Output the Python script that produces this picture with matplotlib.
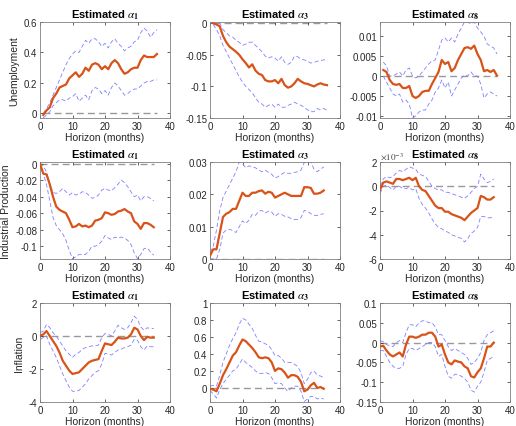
import numpy as np
import matplotlib
matplotlib.use("Agg")
import matplotlib.pyplot as plt
from matplotlib.ticker import FuncFormatter

plt.rcParams['font.family'] = ['Liberation Sans', 'DejaVu Sans']
plt.rcParams['axes.unicode_minus'] = False
plt.rcParams['mathtext.fontset'] = 'stix'

# horizons
h_unemp = list(range(1, 37))
h_other = list(range(0, 36))

# --- Unemployment ---
un_a1 = [-0.01, 0.02, 0.04, 0.10, 0.13, 0.17, 0.18, 0.19, 0.23, 0.25, 0.27, 0.24, 0.26, 0.30, 0.28, 0.32, 0.33, 0.32,
         0.29, 0.31, 0.29, 0.33, 0.35, 0.33, 0.29, 0.26, 0.27, 0.29, 0.30, 0.30, 0.35, 0.38, 0.37, 0.37, 0.37, 0.39]
un_a1_hi = [0.0, 0.03, 0.07, 0.12, 0.17, 0.22, 0.27, 0.32, 0.36, 0.39, 0.41, 0.40, 0.44, 0.48, 0.46, 0.49, 0.49, 0.47,
            0.44, 0.46, 0.43, 0.47, 0.49, 0.46, 0.44, 0.41, 0.43, 0.44, 0.47, 0.48, 0.53, 0.56, 0.54, 0.50, 0.53, 0.55]
un_a1_lo = [-0.03, -0.01, 0.01, 0.05, 0.07, 0.09, 0.09, 0.08, 0.10, 0.11, 0.13, 0.08, 0.10, 0.12, 0.09, 0.15, 0.17, 0.16,
            0.13, 0.15, 0.12, 0.17, 0.20, 0.18, 0.15, 0.12, 0.13, 0.15, 0.16, 0.16, 0.18, 0.20, 0.21, 0.21, 0.22, 0.22]

un_a3 = [0.0, -0.002, -0.005, -0.02, -0.03, -0.037, -0.041, -0.045, -0.05, -0.057, -0.063, -0.07, -0.065, -0.075,
         -0.08, -0.082, -0.09, -0.092, -0.092, -0.09, -0.095, -0.088, -0.098, -0.102, -0.1, -0.095, -0.088, -0.092,
         -0.095, -0.096, -0.098, -0.1, -0.097, -0.095, -0.097, -0.098]
un_a3_hi = [0.003, 0.004, 0.0, -0.01, -0.015, -0.02, -0.022, -0.027, -0.03, -0.035, -0.033, -0.03, -0.03, -0.035,
            -0.04, -0.045, -0.052, -0.055, -0.053, -0.055, -0.06, -0.053, -0.062, -0.065, -0.062, -0.052, -0.053,
            -0.057, -0.058, -0.06, -0.063, -0.062, -0.06, -0.059, -0.058, -0.058]
un_a3_lo = [-0.002, -0.01, -0.02, -0.035, -0.045, -0.055, -0.065, -0.075, -0.085, -0.093, -0.1, -0.105, -0.11, -0.118,
            -0.125, -0.128, -0.133, -0.13, -0.128, -0.133, -0.128, -0.133, -0.133, -0.13, -0.128, -0.125, -0.128,
            -0.13, -0.133, -0.137, -0.14, -0.14, -0.135, -0.137, -0.135, -0.138]

un_a8 = [0.0015, 0.001, -0.001, -0.002, -0.0022, -0.002, -0.003, -0.003, -0.0025, -0.005, -0.0055, -0.005, -0.004,
         -0.0037, -0.0037, -0.002, -0.0005, 0.001, 0.004, 0.003, 0.0035, 0.0012, 0.002, 0.004, 0.0055, 0.007, 0.0072,
         0.0068, 0.0076, 0.0055, 0.004, 0.0012, 0.0015, 0.001, 0.0015, 0.0001]
un_a8_hi = [0.0035, 0.0025, 0.0, 0.0, 0.0005, 0.001, 0.0, 0.0015, 0.002, 0.0, -0.0005, 0.0, 0.001, 0.002, 0.003, 0.0038,
            0.004, 0.0065, 0.009, 0.0095, 0.0085, 0.0095, 0.0085, 0.0105, 0.012, 0.0135, 0.0135, 0.013, 0.0135, 0.012,
            0.011, 0.01, 0.008, 0.0075, 0.007, 0.0055]
un_a8_lo = [0.0, -0.0015, -0.003, -0.0045, -0.005, -0.0045, -0.0065, -0.006, -0.007, -0.0105, -0.01, -0.009, -0.0085,
            -0.0085, -0.007, -0.006, -0.004, -0.003, -0.001, -0.003, -0.0015, -0.005, -0.0035, -0.002, -0.0005, 0.0002,
            0.0, 0.001, 0.0, 0.0, -0.002, -0.0055, -0.0045, -0.004, -0.0045, -0.005]

# --- Industrial Production ---
ip_a1 = [0.0, -0.012, -0.013, -0.025, -0.04, -0.052, -0.056, -0.058, -0.06, -0.068, -0.077, -0.076, -0.073, -0.076,
         -0.075, -0.077, -0.075, -0.069, -0.068, -0.066, -0.059, -0.06, -0.062, -0.061, -0.058, -0.057, -0.055, -0.058,
         -0.06, -0.07, -0.073, -0.079, -0.072, -0.072, -0.074, -0.077]
ip_a1_hi = [0.001, -0.003, -0.01, -0.025, -0.035, -0.036, -0.034, -0.03, -0.034, -0.038, -0.035, -0.038, -0.037,
            -0.034, -0.035, -0.038, -0.042, -0.041, -0.038, -0.032, -0.03, -0.032, -0.033, -0.029, -0.025, -0.02,
            -0.023, -0.028, -0.034, -0.04, -0.038, -0.045, -0.04, -0.04, -0.042, -0.045]
ip_a1_lo = [-0.001, -0.012, -0.025, -0.045, -0.065, -0.075, -0.08, -0.085, -0.093, -0.105, -0.115, -0.113, -0.11,
            -0.11, -0.11, -0.106, -0.1, -0.1, -0.098, -0.094, -0.087, -0.09, -0.092, -0.089, -0.09, -0.089, -0.09,
            -0.093, -0.098, -0.108, -0.115, -0.11, -0.103, -0.102, -0.107, -0.111]

ip_a3 = [0.001, 0.003, 0.003, 0.008, 0.013, 0.014, 0.0145, 0.0155, 0.0155, 0.018, 0.0205, 0.0195, 0.0195, 0.0205,
         0.0205, 0.021, 0.0212, 0.0202, 0.0208, 0.0205, 0.019, 0.0195, 0.02, 0.0205, 0.02, 0.0195, 0.0195, 0.0195,
         0.0195, 0.0222, 0.0222, 0.022, 0.0202, 0.0202, 0.0205, 0.0212]
ip_a3_hi = [0.002, 0.004, 0.009, 0.015, 0.019, 0.021, 0.023, 0.025, 0.027, 0.03, 0.0295, 0.0282, 0.0288, 0.0285,
            0.0282, 0.0275, 0.027, 0.0275, 0.0268, 0.0262, 0.025, 0.0255, 0.0262, 0.0268, 0.0265, 0.0265, 0.0268,
            0.027, 0.0275, 0.0298, 0.0302, 0.03, 0.0278, 0.027, 0.0278, 0.0285]
ip_a3_lo = [0.0, 0.0, 0.0, 0.003, 0.008, 0.009, 0.0092, 0.0088, 0.0082, 0.01, 0.0118, 0.011, 0.012, 0.0138, 0.0135,
            0.0148, 0.015, 0.0142, 0.0148, 0.0145, 0.0132, 0.014, 0.0138, 0.0132, 0.013, 0.0125, 0.0122, 0.0122,
            0.0128, 0.015, 0.0148, 0.014, 0.0135, 0.0135, 0.0138, 0.014]

# in units of 1e-3
ip_a8 = [-0.3, 0.3, 0.4, 0.3, 0.2, 0.6, 0.6, 0.5, 0.6, 0.7, 0.5, 0.7, 0.0, -0.3, -0.4, -0.8, -1.2, -1.6, -1.8, -1.8,
         -2.1, -2.1, -2.3, -2.4, -2.5, -2.6, -2.8, -2.5, -2.2, -2.0, -1.8, -0.8, -0.9, -1.1, -1.1, -0.9]
ip_a8_hi = [0.0, 0.6, 0.8, 0.7, 0.8, 1.1, 1.3, 1.2, 1.4, 1.6, 1.5, 1.4, 1.0, 0.9, 0.8, 0.4, 0.0, -0.2, -0.3, -0.3,
            -0.5, -0.5, -0.6, -0.7, -0.8, -0.9, -1.0, -0.8, -0.5, -0.2, 0.0, 1.0, 0.6, 0.3, 0.4, 0.6]
ip_a8_lo = [-0.6, 0.0, 0.1, -0.1, -0.3, 0.0, 0.0, -0.2, -0.2, -0.1, -0.3, -0.2, -1.0, -1.5, -1.8, -2.2, -2.7, -3.1,
            -3.4, -3.5, -3.7, -3.8, -4.0, -4.1, -4.2, -4.3, -4.6, -4.3, -3.9, -3.7, -3.4, -2.5, -2.5, -2.6, -2.6, -2.5]

# --- Inflation ---
inf_a1 = [0.0, 0.1, 0.3, 0.0, -0.3, -0.6, -1.0, -1.5, -1.8, -2.1, -2.3, -2.25, -2.2, -2.0, -1.8, -1.6, -1.5, -1.45,
          -1.4, -0.9, -0.45, -0.5, -0.55, -0.35, -0.1, -0.15, -0.15, -0.1, 0.1, 0.5, 0.4, 0.0, -0.25, -0.05, -0.1, -0.1]
inf_a1_hi = [0.2, 0.3, 0.7, 0.5, 0.2, 0.0, -0.3, -0.6, -0.9, -1.1, -1.3, -1.1, -1.0, -0.8, -0.7, -0.65, -0.6, -0.6,
             -0.55, -0.1, 0.15, 0.1, 0.0, 0.3, 0.65, 0.5, 0.4, 0.5, 0.8, 1.2, 1.0, 0.55, 0.35, 0.5, 0.45, 0.45]
inf_a1_lo = [-0.2, -0.1, 0.0, -0.5, -0.9, -1.3, -1.8, -2.3, -2.7, -3.1, -3.35, -3.35, -3.3, -3.1, -2.9, -2.6, -2.4,
             -2.2, -2.1, -1.7, -1.05, -1.1, -1.15, -1.0, -0.85, -0.8, -0.7, -0.65, -0.55, -0.2, -0.25, -0.65, -0.85,
             -0.6, -0.65, -0.65]

inf_a3 = [-0.01, -0.02, -0.04, 0.05, 0.15, 0.22, 0.3, 0.38, 0.42, 0.5, 0.57, 0.55, 0.51, 0.47, 0.42, 0.36, 0.35, 0.36,
          0.35, 0.3, 0.2, 0.23, 0.22, 0.18, 0.12, 0.15, 0.15, 0.13, 0.07, -0.04, -0.02, 0.03, 0.06, 0.0, 0.01, -0.01]
inf_a3_hi = [0.02, 0.03, 0.02, 0.15, 0.3, 0.4, 0.5, 0.58, 0.65, 0.75, 0.82, 0.8, 0.75, 0.7, 0.62, 0.55, 0.54, 0.52,
             0.5, 0.45, 0.38, 0.38, 0.35, 0.3, 0.3, 0.3, 0.28, 0.25, 0.18, 0.05, 0.1, 0.18, 0.2, 0.15, 0.14, 0.12]
inf_a3_lo = [-0.03, -0.07, -0.12, -0.02, 0.05, 0.1, 0.15, 0.2, 0.22, 0.28, 0.34, 0.3, 0.27, 0.24, 0.2, 0.17, 0.17,
             0.18, 0.17, 0.12, 0.05, 0.06, 0.05, 0.0, -0.04, 0.0, 0.02, 0.02, -0.04, -0.16, -0.13, -0.1, -0.1, -0.13,
             -0.12, -0.13]

inf_a8 = [-0.01, -0.008, -0.02, -0.03, -0.035, -0.03, -0.025, -0.035, -0.005, 0.015, 0.015, 0.012, 0.015, 0.02, 0.02,
          0.025, 0.025, 0.015, -0.01, -0.005, -0.03, -0.05, -0.055, -0.045, -0.048, -0.05, -0.06, -0.065, -0.085,
          -0.088, -0.075, -0.065, -0.04, -0.01, -0.01, 0.0]
inf_a8_hi = [0.005, 0.002, -0.005, -0.008, -0.01, 0.0, 0.005, 0.0, 0.025, 0.045, 0.045, 0.04, 0.05, 0.055, 0.055,
             0.05, 0.05, 0.04, 0.02, 0.02, 0.005, -0.01, -0.02, -0.015, -0.02, -0.025, -0.03, -0.04, -0.055, -0.05,
             -0.04, -0.025, 0.005, 0.02, 0.025, 0.03]
inf_a8_lo = [-0.02, -0.02, -0.035, -0.05, -0.06, -0.065, -0.065, -0.06, -0.03, -0.015, -0.015, -0.02, -0.015, -0.01,
             -0.005, 0.0, 0.0, -0.01, -0.035, -0.03, -0.06, -0.085, -0.09, -0.08, -0.08, -0.085, -0.09, -0.1, -0.12,
             -0.125, -0.11, -0.1, -0.075, -0.045, -0.04, -0.035]

row_labels = ["Unemployment", "Industrial Production", "Inflation"]
col_titles = [r"Estimated $\alpha_{\mathbf{1}}$", r"Estimated $\alpha_{\mathbf{3}}$", r"Estimated $\alpha_{\mathbf{8}}$"]

panels = [
    [(h_unemp, un_a1, un_a1_lo, un_a1_hi, (-0.03, 0.6), [0, 0.2, 0.4, 0.6]),
     (h_unemp, un_a3, un_a3_lo, un_a3_hi, (-0.15, 0.002), [-0.15, -0.1, -0.05, 0]),
     (h_unemp, un_a8, un_a8_lo, un_a8_hi, (-0.0105, 0.0135), [-0.01, -0.005, 0, 0.005, 0.01])],
    [(h_other, ip_a1, ip_a1_lo, ip_a1_hi, (-0.1155, 0.002), [-0.1, -0.08, -0.06, -0.04, -0.02, 0]),
     (h_other, ip_a3, ip_a3_lo, ip_a3_hi, (0, 0.03), [0, 0.01, 0.02, 0.03]),
     (h_other, np.array(ip_a8) * 1e-3, np.array(ip_a8_lo) * 1e-3, np.array(ip_a8_hi) * 1e-3,
      (-0.006, 0.002), [-0.006, -0.004, -0.002, 0, 0.002])],
    [(h_other, inf_a1, inf_a1_lo, inf_a1_hi, (-4, 2), [-4, -2, 0, 2]),
     (h_other, inf_a3, inf_a3_lo, inf_a3_hi, (-0.166, 1), [0, 0.2, 0.4, 0.6, 0.8, 1]),
     (h_other, inf_a8, inf_a8_lo, inf_a8_hi, (-0.15, 0.1), [-0.15, -0.1, -0.05, 0, 0.05, 0.1])],
]

fig = plt.figure(figsize=(5.16, 4.27), dpi=100)

lefts = [40, 210, 380]
tops = [23, 163, 304]
bottoms = [119, 260, 403]
W, H = 516.0, 427.0
fmt_g = FuncFormatter(lambda v, p: "%g" % v if abs(v) > 1e-12 else "0")

for r in range(3):
    for c in range(3):
        x, est, lo, hi, ylim, yt = panels[r][c]
        ax = fig.add_axes([lefts[c] / W, 1 - bottoms[r] / H, 130 / W, (bottoms[r] - tops[r]) / H])
        ax.plot(x, est, color='#D95319', lw=1.6, zorder=3)
        ax.plot(x, hi, color='#7F7FFF', lw=0.6, ls=(0, (5, 3)), zorder=2)
        ax.plot(x, lo, color='#7F7FFF', lw=0.6, ls=(0, (5, 3)), zorder=2)
        ax.axhline(0, xmin=x[0] / 40, xmax=x[-1] / 40, color='#999999', lw=1.0, ls=(0, (5, 3)), zorder=1)
        ax.set_xlim(0, 40)
        ax.set_ylim(*ylim)
        ax.set_xticks([0, 10, 20, 30, 40])
        ax.set_yticks(yt)
        if r == 1 and c == 2:
            ax.yaxis.set_major_formatter(FuncFormatter(lambda v, p: "%g" % round(v * 1e3, 6)))
            ax.text(0.0, 1.01, r"$\times10^{-3}$", transform=ax.transAxes, fontsize=6.5,
                    color='#404040', ha='left', va='bottom')
        else:
            ax.yaxis.set_major_formatter(fmt_g)
        ax.tick_params(direction='in', length=2, width=0.5, labelsize=7, colors='#262626',
                       top=True, right=True, pad=2)
        for s in ax.spines.values():
            s.set_color('#808080')
            s.set_linewidth(0.6)
        ax.set_xlabel("Horizon (months)", fontsize=7.5, color='#262626', labelpad=1)
        ax.set_title(col_titles[c], fontsize=8, fontweight='bold', pad=3)
        if c == 0:
            ax.set_ylabel(row_labels[r], fontsize=7.5, color='#262626', labelpad=3)

fig.savefig("out.png", dpi=100)
